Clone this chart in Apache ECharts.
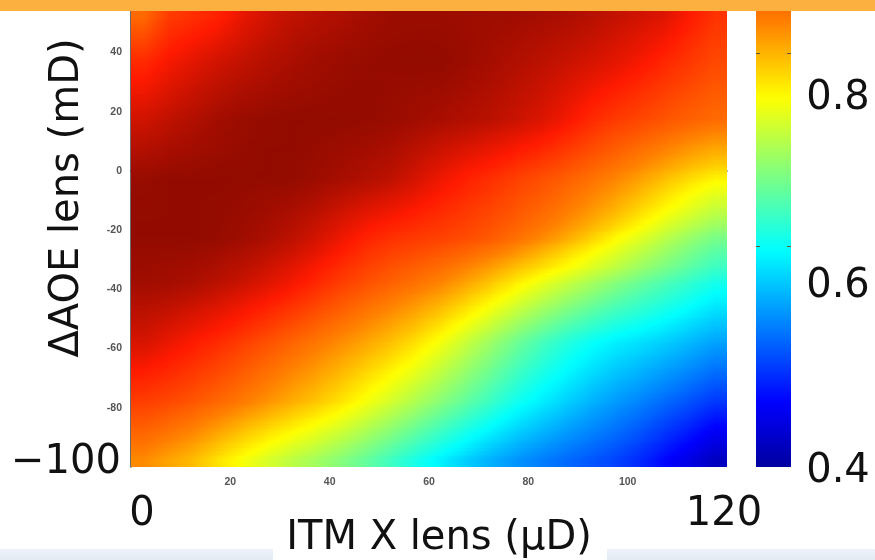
<!DOCTYPE html>
<html>
<head>
<meta charset="utf-8">
<script src="https://cdn.jsdelivr.net/npm/echarts@6/dist/echarts.min.js"></script>
<style>
  html, body { margin: 0; padding: 0; background: #ffffff; }
  #chart { width: 875px; height: 560px; }
</style>
</head>
<body>
<div id="chart"></div>
<script>
// Axis ticks and the large annotation labels
const xTicks = [0, 20, 40, 60, 80, 100, 120];
const yTicks = [-100, -80, -60, -40, -20, 0, 20, 40];
const colorTicks = [0.6, 0.8];
const colorLabels = ['0.8', '0.6', '0.4'];
const xTitle = 'ITM X lens (\u03bcD)';
const yTitle = '\u0394AOE lens (mD)';

// Sample points of the scan grid (ITM X lens in uD, delta AOE lens in mD)
const xCenters = [2.5, 7.5, 12.5, 17.5, 22.5, 27.5, 32.5, 37.5, 42.5, 47.5, 52.5, 57.5,
                  62.5, 67.5, 72.5, 77.5, 82.5, 87.5, 92.5, 97.5, 102.5, 107.5, 112.5, 117.5];
const yCenters = [-97.5, -92.5, -87.5, -82.5, -77.5, -72.5, -67.5, -62.5, -57.5, -52.5, -47.5,
                  -42.5, -37.5, -32.5, -27.5, -22.5, -17.5, -12.5, -7.5, -2.5, 2.5, 7.5, 12.5,
                  17.5, 22.5, 27.5, 32.5, 37.5, 42.5, 47.5, 52.5];

// One row per yCenters entry, one value per xCenters entry
const zRows = [
  [0.826,0.810,0.795,0.772,0.750,0.730,0.712,0.695,0.677,0.657,0.634,0.610,0.588,0.566,0.547,0.531,0.517,0.504,0.492,0.480,0.463,0.442,0.420,0.395],
  [0.841,0.827,0.813,0.792,0.772,0.753,0.735,0.719,0.700,0.680,0.657,0.634,0.611,0.589,0.568,0.550,0.535,0.520,0.507,0.494,0.477,0.458,0.438,0.415],
  [0.856,0.844,0.831,0.813,0.794,0.776,0.759,0.742,0.724,0.703,0.681,0.657,0.634,0.611,0.590,0.570,0.553,0.537,0.522,0.508,0.492,0.474,0.455,0.434],
  [0.870,0.860,0.848,0.833,0.816,0.799,0.782,0.766,0.747,0.726,0.704,0.681,0.657,0.634,0.611,0.589,0.570,0.553,0.536,0.521,0.506,0.489,0.473,0.454],
  [0.885,0.877,0.866,0.853,0.838,0.822,0.805,0.789,0.770,0.749,0.727,0.704,0.680,0.656,0.632,0.608,0.588,0.569,0.551,0.535,0.520,0.505,0.490,0.473],
  [0.898,0.889,0.878,0.865,0.850,0.834,0.818,0.802,0.784,0.764,0.744,0.721,0.697,0.672,0.647,0.623,0.601,0.582,0.564,0.548,0.535,0.521,0.506,0.490],
  [0.911,0.901,0.889,0.877,0.862,0.846,0.830,0.815,0.798,0.780,0.760,0.739,0.714,0.688,0.663,0.637,0.615,0.595,0.577,0.562,0.549,0.536,0.522,0.507],
  [0.924,0.913,0.901,0.888,0.873,0.858,0.843,0.827,0.811,0.795,0.777,0.756,0.731,0.704,0.678,0.652,0.628,0.607,0.589,0.575,0.564,0.552,0.538,0.523],
  [0.937,0.925,0.912,0.900,0.885,0.870,0.855,0.840,0.825,0.810,0.793,0.773,0.748,0.720,0.693,0.666,0.641,0.620,0.602,0.588,0.578,0.567,0.554,0.540],
  [0.945,0.936,0.925,0.914,0.900,0.886,0.871,0.855,0.840,0.825,0.809,0.791,0.769,0.743,0.717,0.691,0.667,0.645,0.627,0.611,0.599,0.586,0.572,0.557],
  [0.953,0.946,0.937,0.927,0.915,0.901,0.887,0.871,0.855,0.840,0.825,0.809,0.789,0.766,0.741,0.716,0.692,0.671,0.651,0.634,0.620,0.606,0.591,0.575],
  [0.961,0.957,0.950,0.941,0.929,0.917,0.902,0.886,0.869,0.855,0.841,0.826,0.810,0.788,0.765,0.741,0.718,0.696,0.676,0.657,0.640,0.625,0.609,0.592],
  [0.969,0.967,0.962,0.954,0.944,0.932,0.918,0.901,0.884,0.870,0.857,0.844,0.830,0.811,0.789,0.766,0.743,0.721,0.700,0.680,0.661,0.644,0.627,0.609],
  [0.972,0.970,0.967,0.961,0.953,0.942,0.929,0.913,0.896,0.882,0.869,0.858,0.847,0.832,0.814,0.794,0.775,0.755,0.734,0.713,0.691,0.672,0.652,0.633],
  [0.974,0.974,0.972,0.968,0.961,0.952,0.941,0.926,0.909,0.893,0.882,0.873,0.864,0.852,0.838,0.822,0.800,0.778,0.756,0.734,0.712,0.691,0.670,0.650],
  [0.977,0.977,0.977,0.975,0.970,0.962,0.952,0.938,0.921,0.905,0.894,0.887,0.881,0.873,0.862,0.846,0.829,0.808,0.784,0.757,0.735,0.712,0.690,0.670],
  [0.977,0.977,0.977,0.976,0.972,0.966,0.958,0.946,0.932,0.919,0.908,0.900,0.891,0.882,0.871,0.858,0.844,0.826,0.806,0.784,0.760,0.737,0.716,0.697],
  [0.976,0.977,0.977,0.976,0.974,0.970,0.964,0.955,0.943,0.932,0.923,0.912,0.901,0.890,0.879,0.867,0.854,0.839,0.821,0.802,0.780,0.758,0.738,0.719],
  [0.975,0.977,0.977,0.977,0.975,0.973,0.970,0.963,0.954,0.946,0.937,0.925,0.911,0.899,0.887,0.875,0.863,0.849,0.833,0.816,0.796,0.775,0.755,0.738],
  [0.974,0.977,0.977,0.977,0.977,0.977,0.976,0.971,0.965,0.959,0.951,0.937,0.921,0.907,0.895,0.883,0.871,0.859,0.845,0.830,0.812,0.794,0.776,0.760],
  [0.966,0.970,0.973,0.975,0.976,0.977,0.976,0.973,0.968,0.963,0.957,0.945,0.932,0.920,0.910,0.898,0.887,0.874,0.860,0.846,0.831,0.815,0.800,0.787],
  [0.957,0.964,0.968,0.972,0.975,0.977,0.977,0.974,0.971,0.968,0.962,0.953,0.943,0.933,0.924,0.914,0.903,0.889,0.874,0.860,0.846,0.833,0.819,0.808],
  [0.949,0.957,0.964,0.970,0.974,0.976,0.977,0.976,0.974,0.972,0.968,0.961,0.953,0.946,0.938,0.929,0.918,0.904,0.887,0.873,0.862,0.850,0.838,0.828],
  [0.940,0.950,0.959,0.967,0.973,0.976,0.977,0.977,0.977,0.976,0.973,0.969,0.964,0.959,0.953,0.944,0.934,0.919,0.901,0.887,0.877,0.867,0.857,0.849],
  [0.930,0.941,0.951,0.960,0.967,0.971,0.974,0.975,0.976,0.976,0.974,0.971,0.967,0.962,0.956,0.948,0.939,0.926,0.910,0.898,0.887,0.876,0.865,0.856],
  [0.919,0.933,0.944,0.953,0.961,0.966,0.970,0.973,0.975,0.976,0.975,0.973,0.971,0.966,0.960,0.952,0.944,0.933,0.920,0.908,0.897,0.885,0.874,0.863],
  [0.909,0.924,0.936,0.946,0.954,0.961,0.967,0.971,0.974,0.975,0.975,0.975,0.974,0.969,0.963,0.956,0.948,0.939,0.929,0.919,0.907,0.894,0.882,0.870],
  [0.898,0.915,0.928,0.939,0.948,0.956,0.963,0.969,0.973,0.975,0.976,0.977,0.977,0.972,0.966,0.960,0.953,0.946,0.938,0.929,0.917,0.903,0.890,0.876],
  [0.882,0.905,0.917,0.928,0.940,0.951,0.959,0.965,0.969,0.973,0.975,0.976,0.975,0.972,0.967,0.963,0.957,0.951,0.944,0.935,0.925,0.913,0.897,0.882],
  [0.866,0.895,0.906,0.916,0.933,0.945,0.954,0.960,0.965,0.970,0.973,0.974,0.974,0.971,0.969,0.966,0.962,0.957,0.950,0.942,0.932,0.922,0.905,0.887],
  [0.850,0.885,0.895,0.905,0.925,0.940,0.950,0.956,0.961,0.968,0.972,0.973,0.972,0.971,0.970,0.969,0.966,0.962,0.956,0.948,0.940,0.932,0.912,0.893]
];

// Jet colour map and its value range
const jet = ['#00008f', '#0000ff', '#0080ff', '#00ffff', '#80ff80',
             '#ffff00', '#ff8000', '#ff1a00', '#7e0800'];
const zMin = 0.36, zMax = 0.99;

const nx = xCenters.length, ny = yCenters.length;
const cells = [];
yCenters.forEach((y, j) => {
  xCenters.forEach((x, i) => cells.push([x, y, zRows[j][i]]));
});
const halfW = (xCenters[1] - xCenters[0]) / 2;
const halfH = (yCenters[1] - yCenters[0]) / 2;

function colorOf(v) {
  const t = Math.min(1, Math.max(0, (v - zMin) / (zMax - zMin)));
  return echarts.color.lerp(t, jet);
}

// Interpolated shading: each sample point paints the patch up to its right
// and upper neighbours, in thin strips with horizontal gradients.
const STRIPS = 8;
function renderPatch(params, api) {
  const idx = params.dataIndex;
  const i = idx % nx, j = Math.floor(idx / nx);
  const x = api.value(0), y = api.value(1);
  const hasR = i < nx - 1, hasT = j < ny - 1;
  const xL = i === 0 ? x - halfW : x;
  const xR = hasR ? api.value(0, idx + 1) : x + halfW;
  const yB = j === 0 ? y - halfH : y;
  const yT = hasT ? api.value(1, idx + nx) : y + halfH;
  const z00 = api.value(2);
  const z10 = hasR ? api.value(2, idx + 1) : z00;
  const z01 = hasT ? api.value(2, idx + nx) : z00;
  const z11 = (hasR && hasT) ? api.value(2, idx + nx + 1) : (hasR ? z10 : z01);
  const ox = (x - xL) / (xR - xL);
  const children = [];
  for (let k = 0; k < STRIPS; k++) {
    const ya = yB + (yT - yB) * k / STRIPS;
    const yb = yB + (yT - yB) * (k + 1) / STRIPS;
    const ym = (ya + yb) / 2;
    const t = hasT ? Math.max(0, (ym - y) / (yT - y)) : 0;
    const vl = z00 + (z01 - z00) * t;
    const vr = z10 + (z11 - z10) * t;
    const p0 = api.coord([xL, yb]);
    const p1 = api.coord([xR, ya]);
    const left = Math.floor(p0[0]), top = Math.floor(p0[1]);
    const right = Math.ceil(p1[0]), bottom = Math.ceil(p1[1]);
    const stops = [{ offset: 0, color: colorOf(vl) }, { offset: ox, color: colorOf(vl) }];
    [1 / 3, 2 / 3, 1].forEach(f => {
      stops.push({ offset: ox + (1 - ox) * f, color: colorOf(vl + (vr - vl) * f) });
    });
    children.push({
      type: 'rect',
      shape: { x: left, y: top, width: right - left, height: Math.max(1, bottom - top) },
      style: { fill: new echarts.graphic.LinearGradient(0, 0, 1, 0, stops) }
    });
  }
  return { type: 'group', children };
}

const chart = echarts.init(document.getElementById('chart'), null, { renderer: 'canvas' });

// Colour-bar geometry shared by the visualMap bar and its tick axes
const cbar = { left: 756, width: 35, top: -130, height: 608 };

const bigFont = '40px "DejaVu Sans", sans-serif';
function bigText(text, x, y, extra) {
  return Object.assign({ type: 'text', x, y, z: 110,
    style: { text, font: bigFont, fill: '#111', align: 'center', verticalAlign: 'middle' } }, extra || {});
}
const textEls = [
  bigText('\u2212100', 66, 463),
  bigText(String(xTicks[0]), 142, 515),
  bigText(String(xTicks[xTicks.length - 1]), 724, 515),
  bigText(xTitle, 439, 539),
  bigText(yTitle, 68, 198, { rotation: Math.PI / 2 })
];
const colorLabelY = [99, 287, 472];
colorLabels.forEach((t, k) => textEls.push(bigText(t, 838, colorLabelY[k])));

const smallLabel = { fontSize: 10.5, fontWeight: 'bold', color: '#555555',
                     fontFamily: '"Liberation Sans", Arial, sans-serif' };
const cbarTick = { show: true, inside: true, length: 4, customValues: colorTicks,
                   lineStyle: { color: '#6a5a3a', width: 1 } };

const option = {
  backgroundColor: '#ffffff',
  animation: false,
  grid: [
    { left: 131, right: 148, top: 8, bottom: 93, outerBoundsMode: 'none' },
    { left: cbar.left, width: cbar.width, top: cbar.top, height: cbar.height, outerBoundsMode: 'none' }
  ],
  xAxis: [
    {
      type: 'value', gridIndex: 0, min: 0, max: 120, interval: 20,
      axisLine: { show: true, lineStyle: { color: '#3a3a3a', width: 1.5 } },
      axisTick: { show: false },
      splitLine: { show: false },
      axisLabel: Object.assign({ margin: 10,
        formatter: v => (v === xTicks[0] || v === xTicks[xTicks.length - 1]) ? '' : String(v) }, smallLabel)
    },
    { type: 'value', gridIndex: 1, min: 0, max: 1, show: false }
  ],
  yAxis: [
    {
      type: 'value', gridIndex: 0, min: -100, max: 55, interval: 20,
      axisLine: { show: true, lineStyle: { color: '#3a3a3a', width: 1.5 } },
      axisTick: { show: false },
      splitLine: { show: false },
      axisLabel: Object.assign({ margin: 9, showMaxLabel: false,
        formatter: v => (yTicks.indexOf(v) > 0) ? String(v) : '' }, smallLabel)
    },
    {
      type: 'value', gridIndex: 1, min: zMin, max: zMax, position: 'left', z: 20,
      axisLine: { show: false, onZero: false }, splitLine: { show: false }, axisLabel: { show: false },
      axisTick: cbarTick
    },
    {
      type: 'value', gridIndex: 1, min: zMin, max: zMax, position: 'right', z: 20,
      axisLine: { show: false, onZero: false }, splitLine: { show: false }, axisLabel: { show: false },
      axisTick: cbarTick
    }
  ],
  visualMap: {
    type: 'continuous',
    min: zMin, max: zMax,
    dimension: 2,
    seriesIndex: 0,
    calculable: false,
    hoverLink: false,
    left: cbar.left, top: cbar.top,
    itemWidth: cbar.width, itemHeight: cbar.height,
    padding: 0,
    z: 3,
    inRange: { color: jet }
  },
  series: [
    {
      type: 'custom',
      xAxisIndex: 0, yAxisIndex: 0,
      data: cells,
      encode: { x: 0, y: 1 },
      clip: true,
      renderItem: renderPatch,
      z: 2
    }
  ],
  graphic: [
    // slide header band
    { type: 'rect', z: 100, shape: { x: 0, y: 0, width: 875, height: 11 }, style: { fill: '#fcb03f' } },
    // white margin under the colour bar
    { type: 'rect', z: 100, shape: { x: 750, y: 467, width: 50, height: 40 }, style: { fill: '#ffffff' } },
    // slide footer band and the title box over it
    { type: 'rect', z: 100, shape: { x: 0, y: 549, width: 875, height: 11 },
      style: { fill: new echarts.graphic.LinearGradient(0, 0, 0, 1, [
        { offset: 0, color: '#eef3f8' }, { offset: 1, color: '#e2eaf3' }]) } },
    { type: 'rect', z: 101, shape: { x: 273, y: 522, width: 334, height: 38 }, style: { fill: '#ffffff' } }
  ].concat(textEls)
};

chart.setOption(option);
</script>
</body>
</html>
